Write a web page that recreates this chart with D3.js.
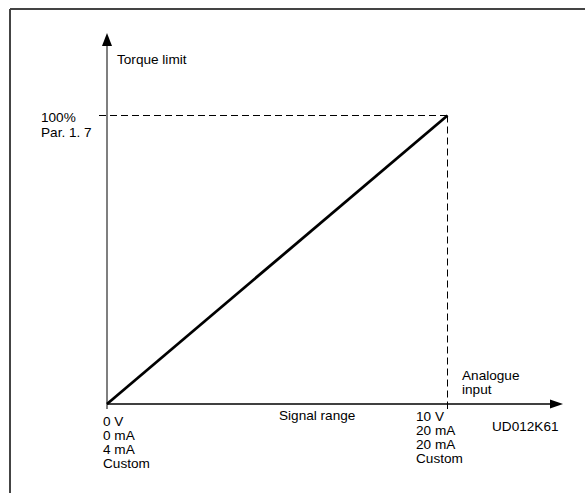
<!DOCTYPE html>
<html>
<head>
<meta charset="utf-8">
<script src="https://cdn.jsdelivr.net/npm/d3@7"></script>
<style>
  html, body { margin: 0; padding: 0; background: #fff; }
  svg { display: block; }
  text { font-family: "Liberation Sans", Arial, sans-serif; font-size: 13.6px; fill: #000; }
</style>
</head>
<body>
<svg id="chart" width="585" height="493"></svg>
<script>
// Data
const signalValues = [0, 10];          // signal (V)
const torqueValues = [0, 100];         // torque limit (%)
const yLabelLines = ["100%", "Par. 1. 7"];
const xStartLabels = ["0 V", "0 mA", "4 mA", "Custom"];
const xEndLabels = ["10 V", "20 mA", "20 mA", "Custom"];
const yAxisTitle = "Torque limit";
const xAxisTitle = "Signal range";
const xAxisEndTitle = ["Analogue", "input"];
const figureCode = "UD012K61";

const svg = d3.select("#chart");

// Frame (top and left borders)
svg.append("line").attr("x1", 10).attr("y1", 9).attr("x2", 585).attr("y2", 9)
  .attr("stroke", "#444").attr("stroke-width", 2);
svg.append("line").attr("x1", 10).attr("y1", 9).attr("x2", 10).attr("y2", 493)
  .attr("stroke", "#444").attr("stroke-width", 2);

const x = d3.scaleLinear().domain([0, 10]).range([107, 447.5]);
const y = d3.scaleLinear().domain([0, 100]).range([404, 115.5]);

const x0 = x(0), y0 = y(0);

// Y axis line with arrow
svg.append("line").attr("x1", x0).attr("y1", y0).attr("x2", x0).attr("y2", 44)
  .attr("stroke", "#555").attr("stroke-width", 1.5);
svg.append("path")
  .attr("d", `M${x0},33 L${x0 - 5},46 L${x0 + 5},46 Z`).attr("fill", "#000");

// X axis line with arrow
svg.append("line").attr("x1", x0).attr("y1", y0).attr("x2", 551).attr("y2", y0)
  .attr("stroke", "#000").attr("stroke-width", 1.5);
svg.append("path")
  .attr("d", `M563,${y0} L550,${y0 - 4.5} L550,${y0 + 4.5} Z`).attr("fill", "#000");

// ticks below x axis
[0, 10].forEach(v => {
  svg.append("line").attr("x1", x(v)).attr("x2", x(v)).attr("y1", y0).attr("y2", y0 + 5)
    .attr("stroke", "#000").attr("stroke-width", 1);
});

// Dashed guides
const xMax = x(d3.max(signalValues)), yMax = y(d3.max(torqueValues));
svg.append("line").attr("x1", 99).attr("y1", yMax).attr("x2", xMax).attr("y2", yMax)
  .attr("stroke", "#000").attr("stroke-width", 1).attr("stroke-dasharray", "7,4");
svg.append("line").attr("x1", xMax).attr("y1", yMax).attr("x2", xMax).attr("y2", y0)
  .attr("stroke", "#000").attr("stroke-width", 1).attr("stroke-dasharray", "7,4");

// Main line
const line = d3.line().x((d, i) => x(signalValues[i])).y((d, i) => y(torqueValues[i]));
svg.append("path").datum(signalValues).attr("d", line)
  .attr("fill", "none").attr("stroke", "#000").attr("stroke-width", 2.8);

// Texts
svg.append("text").attr("x", 117).attr("y", 64).text(yAxisTitle);

const yl = svg.append("text").attr("x", 41).attr("y", 122);
yLabelLines.forEach((t, i) => yl.append("tspan").attr("x", 41).attr("dy", i ? 14.5 : 0).text(t));

const sl = svg.append("text").attr("x", 103).attr("y", 426);
xStartLabels.forEach((t, i) => sl.append("tspan").attr("x", 103).attr("dy", i ? 14 : 0).text(t));

const el = svg.append("text").attr("x", 416).attr("y", 421);
xEndLabels.forEach((t, i) => el.append("tspan").attr("x", 416).attr("dy", i ? 14 : 0).text(t));

svg.append("text").attr("x", 279).attr("y", 420).text(xAxisTitle);

const al = svg.append("text").attr("x", 462).attr("y", 380);
xAxisEndTitle.forEach((t, i) => al.append("tspan").attr("x", 462).attr("dy", i ? 14 : 0).text(t));

svg.append("text").attr("x", 492).attr("y", 431).text(figureCode);
</script>
</body>
</html>
